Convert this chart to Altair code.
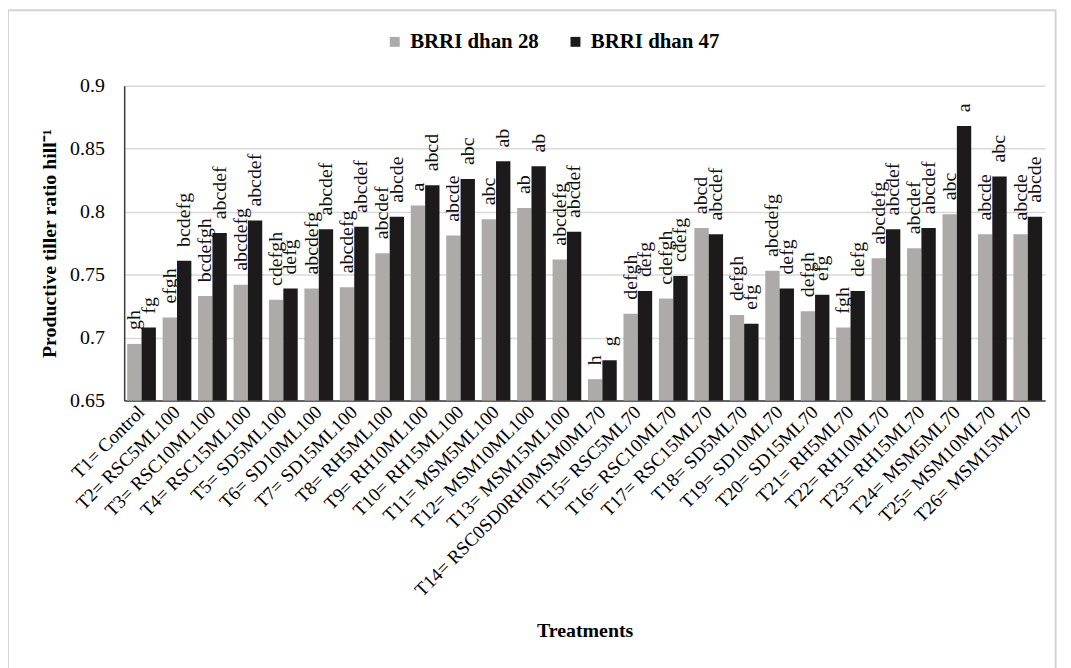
import altair as alt
import pandas as pd

treatments = [
    "T1= Control", "T2= RSC5ML100", "T3= RSC10ML100", "T4= RSC15ML100",
    "T5= SD5ML100", "T6= SD10ML100", "T7= SD15ML100", "T8= RH5ML100",
    "T9= RH10ML100", "T10= RH15ML100", "T11= MSM5ML100", "T12= MSM10ML100",
    "T13= MSM15ML100", "T14= RSC0SD0RH0MSM0ML70", "T15= RSC5ML70",
    "T16= RSC10ML70", "T17= RSC15ML70", "T18= SD5ML70", "T19= SD10ML70",
    "T20= SD15ML70", "T21= RH5ML70", "T22= RH10ML70", "T23= RH15ML70",
    "T24= MSM5ML70", "T25= MSM10ML70", "T26= MSM15ML70",
]
varieties = ["BRRI dhan 28", "BRRI dhan 47"]

values_28 = [0.695, 0.716, 0.733, 0.742, 0.730, 0.739, 0.740, 0.767, 0.805, 0.781,
             0.794, 0.803, 0.762, 0.667, 0.719, 0.731, 0.787, 0.718, 0.753, 0.721,
             0.708, 0.763, 0.771, 0.798, 0.782, 0.782]
values_47 = [0.708, 0.761, 0.783, 0.793, 0.739, 0.786, 0.788, 0.796, 0.821, 0.826,
             0.840, 0.836, 0.784, 0.682, 0.737, 0.749, 0.782, 0.711, 0.739, 0.734,
             0.737, 0.786, 0.787, 0.868, 0.828, 0.796]
letters_28 = ["gh", "efgh", "bcdefgh", "abcdefg", "cdefgh", "abcdefg", "abcdefg",
              "abcdef", "a", "abcde", "abc", "ab", "abcdefg", "h", "defgh", "cdefgh",
              "abcd", "defgh", "abcdefg", "defgh", "fgh", "abcdefg", "abcdef", "abc",
              "abcde", "abcde"]
letters_47 = ["fg", "bcdefg", "abcdef", "abcdef", "defg", "abcdef", "abcdef", "abcde",
              "abcd", "abc", "ab", "ab", "abcdef", "g", "defg", "cdefg", "abcdef", "efg",
              "defg", "efg", "defg", "abcdef", "abcdef", "a", "abc", "abcde"]
y_ticks = [0.65, 0.7, 0.75, 0.8, 0.85, 0.9]

rows = []
for i, t in enumerate(treatments):
    rows.append({"treatment": t, "variety": varieties[0], "value": values_28[i], "letter": letters_28[i]})
    rows.append({"treatment": t, "variety": varieties[1], "value": values_47[i], "letter": letters_47[i]})
df = pd.DataFrame(rows)

FONT = "Liberation Serif"

x_enc = alt.X(
    "treatment:N", sort=treatments,
    scale=alt.Scale(paddingInner=0.19, paddingOuter=0.085),
    axis=alt.Axis(
        title="Treatments", labelAngle=-45, labelAlign="right", labelBaseline="middle",
        labelPadding=8, labelFontSize=19, ticks=False, grid=False,
        titleFontSize=20, titleFontWeight="bold", titlePadding=22,
        labelOverlap=False, labelLimit=400,
    ),
)
xoff = alt.XOffset("variety:N", sort=varieties, scale=alt.Scale(paddingInner=0, paddingOuter=0))
y_enc = alt.Y(
    "value:Q",
    scale=alt.Scale(domain=[0.65, 0.9], nice=False, zero=False),
    axis=alt.Axis(
        title="Productive tiller ratio hill⁻¹", values=y_ticks, format="~g",
        labelFontSize=20, labelPadding=20, ticks=False, grid=True,
        gridColor="#d9d9d9", gridWidth=1.5,
        titleFontSize=20, titleFontWeight="bold", titlePadding=10,
    ),
)

base = alt.Chart(df)

bars = base.mark_bar().encode(
    x=x_enc,
    xOffset=xoff,
    y=y_enc,
    y2=alt.Y2Datum(0.65),
    color=alt.Color(
        "variety:N", sort=varieties,
        scale=alt.Scale(domain=varieties, range=["#aeaaaa", "#1c1a1a"]),
        legend=alt.Legend(
            title=None, orient="none", legendX=262, legendY=-55, direction="horizontal",
            symbolType="square", symbolSize=100, symbolStrokeWidth=0,
            labelFont=FONT, labelFontSize=21, labelFontWeight="bold", labelColor="#000000",
            labelOffset=5, columnPadding=26,
        ),
    ),
)

labels = base.mark_text(
    angle=270, align="left", baseline="middle", dx=14,
    font=FONT, fontSize=20, color="#111111",
).encode(
    x=alt.X("treatment:N", sort=treatments),
    xOffset=alt.XOffset("variety:N", sort=varieties),
    y=alt.Y("value:Q"),
    text="letter:N",
)

frame = alt.Chart(pd.DataFrame({"a": [0]})).mark_rect(
    filled=False, stroke="#d4d4d4", strokeWidth=2
).encode(
    x=alt.value(-117), x2=alt.value(938), y=alt.value(-76), y2=alt.value(700)
)

chart = alt.layer(frame, bars, labels).properties(
    width=927.5, height=317,
    autosize=alt.AutoSizeParams(type="none"),
    padding={"left": 117, "top": 76, "right": 18, "bottom": 267},
    background="#ffffff",
).configure(
    font=FONT,
).configure_axis(
    labelFont=FONT, titleFont=FONT, labelColor="#000000", titleColor="#000000",
    domainColor="#3a3a3a", domainWidth=1.5,
).configure_legend(
    labelFont=FONT, labelFontSize=21, labelFontWeight="bold", labelColor="#000000",
).configure_view(strokeWidth=0)

chart.save("out.html", embed_options={"renderer": "svg", "actions": False})
